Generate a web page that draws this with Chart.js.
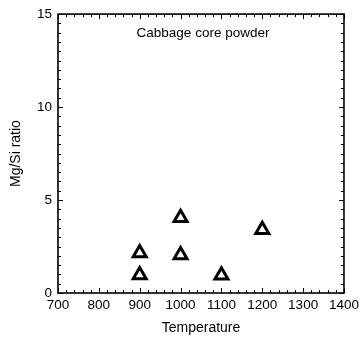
<!DOCTYPE html>
<html>
<head>
<meta charset="utf-8">
<script src="https://cdn.jsdelivr.net/npm/chart.js@4"></script>
<style>
  html, body { margin: 0; padding: 0; background: #fff; }
  #wrap { width: 363px; height: 340px; }
</style>
</head>
<body>
<div id="wrap"><canvas id="chart" width="363" height="340"></canvas></div>
<script>
// data
const temperatures = [900, 900, 1000, 1000, 1100, 1200];
const mgSiRatio = [2.15, 0.97, 4.05, 2.05, 0.95, 3.4];
const xTicks = [700, 800, 900, 1000, 1100, 1200, 1300, 1400];
const yTicks = [0, 5, 10, 15];
const plotTitle = "Cabbage core powder";

const points = temperatures.map((t, i) => ({ x: t, y: mgSiRatio[i] }));
const font = "'Liberation Sans', Arial, sans-serif";

// frame, inward ticks and the in-plot caption
const framePlugin = {
  id: "frame",
  afterDraw(chart) {
    const ctx = chart.ctx;
    const a = chart.chartArea;
    const xs = chart.scales.x;
    const ys = chart.scales.y;
    ctx.save();
    ctx.strokeStyle = "#000";
    ctx.lineWidth = 1.6;
    ctx.strokeRect(a.left, a.top, a.right - a.left, a.bottom - a.top);

    ctx.lineWidth = 1;
    ctx.beginPath();
    for (let v = 700; v <= 1400; v += 20) {
      const px = Math.round(xs.getPixelForValue(v)) + 0.5;
      const len = v % 100 === 0 ? 5 : 3;
      ctx.moveTo(px, a.bottom); ctx.lineTo(px, a.bottom - len);
      ctx.moveTo(px, a.top); ctx.lineTo(px, a.top + len);
    }
    for (let v = 0; v <= 15; v += 0.5) {
      const py = Math.round(ys.getPixelForValue(v)) + 0.5;
      const len = v % 5 === 0 ? 5 : 3;
      ctx.moveTo(a.left, py); ctx.lineTo(a.left + len, py);
      ctx.moveTo(a.right, py); ctx.lineTo(a.right - len, py);
    }
    ctx.stroke();

    ctx.fillStyle = "#000";
    ctx.font = "13.5px " + font;
    ctx.textAlign = "center";
    ctx.textBaseline = "middle";
    ctx.fillText(plotTitle, 203, a.top + 19);
    ctx.restore();
  }
};

new Chart(document.getElementById("chart"), {
  type: "scatter",
  data: {
    datasets: [{
      data: points,
      pointStyle: "triangle",
      pointRadius: 7.5,
      pointHoverRadius: 7.5,
      borderColor: "#000",
      backgroundColor: "#fff",
      borderWidth: 3
    }]
  },
  options: {
    responsive: false,
    animation: false,
    events: [],
    layout: { padding: { top: 14, right: 17, left: 0, bottom: 0 } },
    plugins: { legend: { display: false }, tooltip: { enabled: false } },
    scales: {
      x: {
        type: "linear",
        min: 700,
        max: 1400,
        afterBuildTicks: (s) => { s.ticks = xTicks.map(v => ({ value: v })); },
        afterFit: (s) => { s.height = 47; },
        grid: { display: false, drawTicks: false },
        border: { display: false },
        ticks: { color: "#000", padding: 4, maxRotation: 0, callback: (v) => String(v), font: { family: font, size: 13.5 } },
        title: { display: true, text: "Temperature", color: "#000", padding: { top: 0, bottom: 3 }, font: { family: font, size: 14 } }
      },
      y: {
        type: "linear",
        min: 0,
        max: 15,
        afterBuildTicks: (s) => { s.ticks = yTicks.map(v => ({ value: v })); },
        afterFit: (s) => { s.width = 58; },
        grid: { display: false, drawTicks: false },
        border: { display: false },
        ticks: { color: "#000", padding: 6, callback: (v) => String(v), font: { family: font, size: 13.5 } },
        title: { display: true, text: "Mg/Si ratio", color: "#000", padding: { top: 8, bottom: 0 }, font: { family: font, size: 14 } }
      }
    }
  },
  plugins: [framePlugin]
});
</script>
</body>
</html>
